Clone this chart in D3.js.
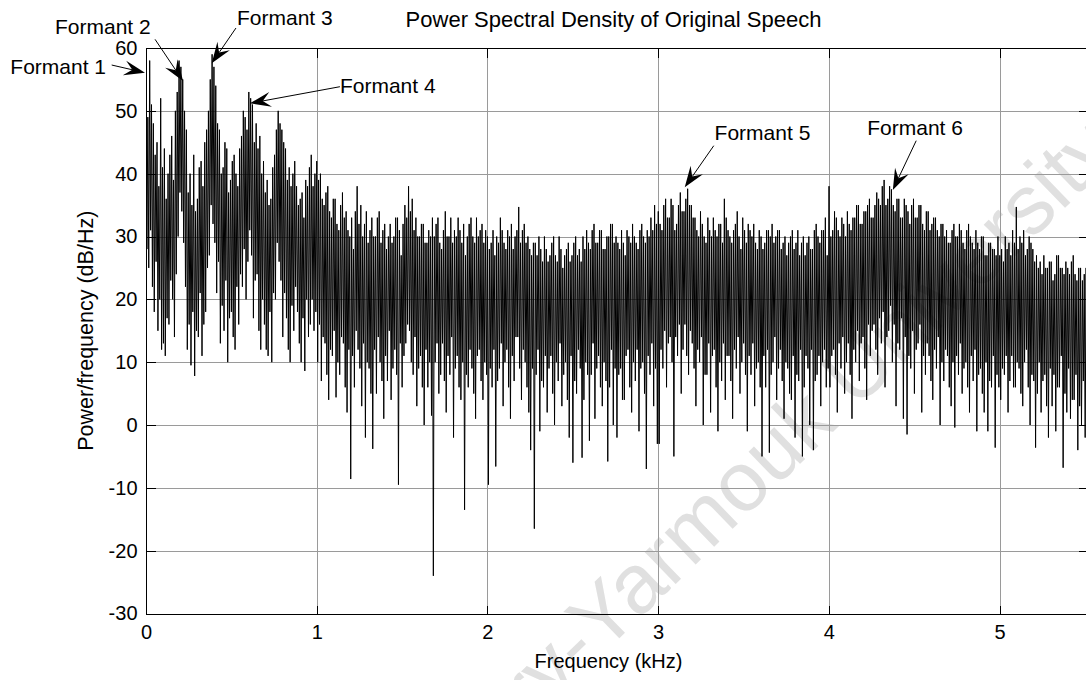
<!DOCTYPE html>
<html>
<head>
<meta charset="utf-8">
<script src="https://cdn.jsdelivr.net/npm/d3@7"></script>
<style>
  html, body { margin: 0; padding: 0; background: #fff; }
  svg text { font-family: "Liberation Sans", Arial, Helvetica, sans-serif; fill: #000; }
</style>
</head>
<body>
<svg id="chart" width="1086" height="680"></svg>
<script>
// Periodogram of the speech signal (dB/Hz), one array per kHz band.
const psdBand0 = [
  57, 28, 49, 25, 58, 31, 51, 22, 48, 18, 43, 26, 45, 15, 38, 20,
  52, 12, 41, 13, 44, 11, 36, 17, 40, 16, 43, 23, 46, 20, 39, 14,
  50, 24, 53, 30, 58, 37, 57, 34, 55, 29, 50, 22, 47, 12, 37, 16,
  40, 9.5, 35, 18, 43, 7.8, 34, 15, 36, 14, 41, 21, 42, 11, 38, 16,
  45, 18, 47, 25, 50, 27, 55, 35, 59, 32, 57, 29, 54, 21, 48, 26,
  47, 13, 40, 19, 41, 15, 45, 23, 44, 10, 37, 17, 39, 18, 42, 14,
  43, 12, 40, 22, 38, 16, 44, 24, 46, 22, 50, 28, 49, 20, 47, 26,
  53, 31, 52, 27, 51, 17, 45, 23, 48, 24, 44, 15, 46, 12, 40, 20,
  42, 16, 37, 12, 39, 11, 35, 18, 36, 10, 41, 21, 43, 20, 47, 29,
  50, 26, 48, 23, 47, 14, 45, 21, 44, 17, 39, 12, 41, 10, 38, 19,
  40, 15, 42, 22, 38, 18, 35, 13, 36, 10, 37, 17, 33, 8.6, 39, 20,
  38, 14, 41, 16, 43, 20, 38, 15, 40, 18
];
const psdBand1 = [
  42, 10, 39, 16, 40, 7, 36, 14, 35, 13, 37, 8, 38, 4, 34, 12,
  33, 11, 36, 15, 36, 4.4, 32, 10, 31, 8, 35, 14, 37, 13, 33, 6,
  34, 2, 31, 12, 30, -8.6, 33, 11, 28, 6, 34, 15, 38, 12, 32, 9,
  35, 3, 30, 13, 32, -2, 34, 10, 29, 9, 31, 5, 33, -3.8, 30, 12,
  30, 5, 33, 14, 34, 10, 29, 7, 31, 1, 32, 11, 28, 7, 30, 15,
  32, 4, 29, 9, 30, 12, 33, 8, 33, -9.5, 31, 13, 27, 6, 32, 11,
  35, 13, 33, 16, 38, 15, 34, 10, 36, 8, 31, 14, 33, 3, 30, 9,
  30, 11, 32, 6, 32, 0, 29, 12, 29, 6, 31, 10, 30, 1.5, 33, -24,
  30, 10, 32, 13, 33, 5, 29, 8, 28, 13, 31, 7, 34, 2, 30, 11,
  30, 8, 33, 14, 29, -2, 31, 9, 30, 11, 33, 6, 31, 4, 29, 10,
  32, -13.5, 27, 8, 30, 6, 32, 12, 33, 9, 30, 5, 29, 1, 33, 11,
  30, 12, 31, 7, 32, 4, 29, 10, 31, 8
];
const psdBand2 = [
  30, -9.5, 28, 9, 29, 6, 31, 12, 27, -6.6, 30, 7, 29, 9, 33, 13,
  31, 3, 29, 10, 28, 12, 31, 6, 30, 1, 32, 11, 28, 7, 30, 14,
  31, 14, 34.7, 9, 29, 4, 31, 12, 32, 10, 29, 6, 30, 2, 28, -4,
  27, 9, 29, -16.5, 29, 8, 27, 12, 30, -1, 28, 7, 26, 6, 30, 11,
  28, 2, 26, 9, 27, 11, 29, 5, 30, 0, 27, 10, 26, 7, 30, 13,
  28, 3, 25, 8, 27, 10, 28, 4, 29, -2, 26, 11, 27, -6, 29, 7,
  30, 5, 27, 12, 28, 9, 26, -5.2, 30, 4, 28, 10, 31, 8, 29, -2.5,
  28, 8, 31, 13, 32, 1, 29, 9, 29, 11, 31, 6, 31, 3, 28, 10,
  28, 7, 30, -5.8, 30, 6, 32, 12, 32, 0, 29, 9, 30, -2, 29, 8,
  28, 9, 31, 4, 29, 4, 27, 11, 31, 12, 30, 6, 29, 2, 32, 10,
  30, 7, 29, 12, 28, -1, 31, 9, 32, 10, 30, 5, 29, -7, 31, 11,
  30, 8, 33, 13, 31, 3, 35, 9, 32, -3
];
const psdBand3 = [
  34, -3, 32, 12, 31, 9, 35, 15, 36, 6, 33, 13, 33, 14, 36, 10,
  35, -5, 31, 14, 32, 11, 35, 16, 37, 5, 34, 12, 34, 16, 36, 11,
  37.6, 8, 35, 15, 35, 13, 33, 9, 33, 3, 31, 12, 30, 10, 34, 14,
  32, 0, 30, 8, 29, 8, 33, 13, 31, 2, 30, 11, 33, 12, 31, 6,
  30, -1, 32, 10, 32, 7, 29, 13, 36, 4, 33, 11, 31, 11, 30, 7,
  29, 1, 31, 12, 32, 9, 34, 14, 30, 5, 28, 10, 33, 13, 31, 8,
  29, -1, 32, 11, 31, 8, 30, 13, 32, 3, 29, 9, 28, 10, 31, 6,
  30, -5, 28, 11, 29, 6, 31, 12, 31, -4.4, 30, 8, 32, 10, 29, 14,
  30, 4, 31, 9, 31, 12, 28, 7, 29, 1, 30, 10, 27, 9, 29, 5,
  30, 4, 31, 11, 28, -2, 29, 8, 31, 7, 27, 12, 29, -5, 30, 6,
  27, 11, 29, 9, 30, 0, 28, 12, 28, -4, 31, 7, 32, 8, 30, 11,
  29, 3, 31, 10, 31, 12, 33, 6, 27, 9
];
const psdBand4 = [
  38, 6, 30, 11, 31, 12, 34, 8, 33, 2, 31, 13, 30, 9, 33, 14,
  32, 5, 30, 10, 34, 13, 32, 8, 31, 1, 33, 12, 33, 10, 35, 15,
  35, 7, 32, 13, 32, 14, 34, 9, 34, 4, 35, 16, 36, 11, 33, 15,
  33, 16, 35, 12, 37, 8, 36, 17, 35, 13, 38, 18, 39, 6, 35, 14,
  36, 15, 38, 19, 37.5, 10, 35, 16, 34, 3, 36, 13, 36, 12, 33, 17,
  33, 1, 36, 14, 35, -1.5, 34, 11, 32, 9, 35, 15, 36, 5, 33, 12,
  33, 13, 35, 16, 35, 2, 32, 11, 31, 8, 34, 13, 34, 11, 31, 7,
  32, 4, 33, 12, 33, 9, 31, 14, 30, 0, 32, 10, 32, 7, 30, 12,
  31, 11, 29, 6, 29, 3, 31, 10, 32, -0.4, 30, 11, 30, 8, 32, 13,
  31, 5, 29, 9, 28, 10, 31, 6, 32, 2, 30, 11, 29, 7, 28, 12,
  31, -1, 29, 8, 28, 9, 30, 5, 30, 2, 27, 10, 27, -1, 29, 7,
  29, 6, 28, 11, 28, -3.6, 27, 8, 30, 6
];
const psdBand5 = [
  27, 4, 28, 9, 26, 8, 30, 11, 28, 2, 29, 7, 27, 11, 31, 6,
  29, 6, 34.7, 10, 28, 9, 30, 5, 29, 3, 31, 10, 27, 12, 28, 6,
  30, 0, 29, 8, 28, 7, 26, -3.6, 27, 5, 25, 10, 26, 2, 24, 7,
  27, 8, 25, 3, 25, -2, 26, 9, 26, 3, 23, 8, 24, -1, 27, 6,
  27, 6, 25, 11, 25, -6.8, 24, 5, 26, 2, 25, 9, 24, 1, 26, 4,
  27, 4, 24, 8, 23, -4, 25, 3, 25, 0, 23, 7, 24, -2, 25, -8
];

const nyquistKHz = 5.5125;               // fs = 11.025 kHz
const xTickValues = [0, 1, 2, 3, 4, 5];
const yTickValues = [-30, -20, -10, 0, 10, 20, 30, 40, 50, 60];

// Formant annotations: label position, arrow tail and arrow tip in (kHz, dB).
const formantLabels = ["Formant 1", "Formant 2", "Formant 3", "Formant 4", "Formant 5", "Formant 6"];
const formantText   = [[-0.234, 55.86, "end"], [-0.533, 62.23, "start"], [0.533, 63.66, "start"],
                       [1.136, 52.84, "start"], [3.331, 45.36, "start"], [4.225, 46.15, "start"]];
const formantTail   = [[-0.201, 57.29], [0.053, 61.38], [0.527, 63.18], [1.136, 53.84], [3.326, 44.45], [4.512, 45.25]];
const formantTip    = [[-0.006, 56.07], [0.217, 54.75], [0.385, 57.56], [0.609, 51.2], [3.156, 37.83], [4.375, 37.4]];

const psd = [].concat(psdBand0, psdBand1, psdBand2, psdBand3, psdBand4, psdBand5);
const df = nyquistKHz / (psd.length - 1);
const points = psd.map((v, i) => ({ f: i * df, p: v }));

const svg = d3.select("#chart");
const x = d3.scaleLinear().domain([0, nyquistKHz]).range([146, 1087]);
const y = d3.scaleLinear().domain([-30, 60]).range([613.5, 48]);
const [x0, x1] = x.range();
const [y0, y1] = y.range();
const px = v => Math.round(v) + 0.5;

svg.append("rect").attr("width", 1086).attr("height", 680).attr("fill", "#fff");

// faint diagonal watermark
const wm = svg.append("g")
  .attr("transform", "translate(602,655) rotate(-44)")
  .style("font-family", "'Liberation Serif', 'Times New Roman', serif")
  .style("font-size", "84px");
wm.append("text").attr("text-anchor", "end").style("fill", "#e0e0e0").text("\u00A9 Arabic Digital Library-");
wm.append("text").attr("text-anchor", "start").style("fill", "#e0e0e0").text("Yarmouk University");

// grid
const grid = svg.append("g").attr("stroke", "#9a9a9a").attr("stroke-width", 1).attr("shape-rendering", "crispEdges");
grid.selectAll("line.v").data(xTickValues.filter(d => d > 0)).join("line")
  .attr("class", "v")
  .attr("x1", d => px(x(d))).attr("x2", d => px(x(d))).attr("y1", y1).attr("y2", y0);
grid.selectAll("line.h").data(yTickValues.filter(d => d > -30 && d < 60)).join("line")
  .attr("class", "h")
  .attr("y1", d => px(y(d))).attr("y2", d => px(y(d))).attr("x1", x0).attr("x2", x1);

// spectrum trace
svg.append("defs").append("clipPath").attr("id", "plotClip")
  .append("rect").attr("x", x0).attr("y", y1).attr("width", x1 - x0).attr("height", y0 - y1);
svg.append("path")
  .datum(points)
  .attr("clip-path", "url(#plotClip)")
  .attr("fill", "none")
  .attr("stroke", "#000")
  .attr("stroke-width", 1)
  .attr("d", d3.line().x(d => x(d.f)).y(d => y(d.p)));

// axes with inward ticks on all four sides
const tickLen = 9;
const plainNumber = d => String(d);
const axisStyle = g => {
  g.selectAll(".domain").remove();
  g.selectAll(".tick line").attr("stroke", "#000").attr("shape-rendering", "crispEdges");
  g.selectAll(".tick text").style("font-size", "20px").attr("fill", "#000");
};
svg.append("g").attr("transform", `translate(0,${px(y0)})`)
  .call(d3.axisBottom(x).tickValues(xTickValues).tickFormat(plainNumber).tickSize(-tickLen).tickPadding(10).offset(0.5))
  .call(axisStyle);
svg.append("g").attr("transform", `translate(0,${px(y1)})`)
  .call(d3.axisTop(x).tickValues(xTickValues).tickFormat("").tickSize(-tickLen).offset(0.5))
  .call(axisStyle);
svg.append("g").attr("transform", `translate(${px(x0)},0)`)
  .call(d3.axisLeft(y).tickValues(yTickValues).tickFormat(plainNumber).tickSize(-tickLen).tickPadding(9).offset(0.5))
  .call(axisStyle);
svg.append("g").attr("transform", `translate(${px(x1)},0)`)
  .call(d3.axisRight(y).tickValues(yTickValues).tickFormat("").tickSize(-tickLen).offset(0.5))
  .call(axisStyle);

// axes box
svg.append("rect")
  .attr("x", px(x0)).attr("y", px(y1))
  .attr("width", Math.round(x1) - Math.round(x0)).attr("height", Math.round(y0) - Math.round(y1))
  .attr("fill", "none").attr("stroke", "#000").attr("stroke-width", 1.2)
  .attr("shape-rendering", "crispEdges");

// title and axis labels
svg.append("text").attr("x", (x0 + x1) / 2 - 3).attr("y", 27).attr("text-anchor", "middle")
  .style("font-size", "22px").text("Power Spectral Density of Original Speech");
svg.append("text").attr("x", (x0 + x1) / 2 - 8).attr("y", 668).attr("text-anchor", "middle")
  .style("font-size", "20px").text("Frequency (kHz)");
svg.append("text").attr("transform", `translate(93,${(y0 + y1) / 2}) rotate(-90)`).attr("text-anchor", "middle")
  .style("font-size", "21.5px").text("Power/frequency (dB/Hz)");

// formant annotations with filled swept-back arrowheads
const headLen = 21, headHalf = 7.5, notch = 0.62;
formantLabels.forEach((label, i) => {
  const [tf, td, anchor] = formantText[i];
  svg.append("text").attr("x", x(tf)).attr("y", y(td)).attr("text-anchor", anchor)
    .style("font-size", "21px").text(label);
  const ax = x(formantTail[i][0]), ay = y(formantTail[i][1]);
  const bx = x(formantTip[i][0]), by = y(formantTip[i][1]);
  const ang = Math.atan2(by - ay, bx - ax);
  const ux = Math.cos(ang), uy = Math.sin(ang);
  const nx = -uy, ny = ux;
  const back = [bx - ux * headLen, by - uy * headLen];
  const mid = [bx - ux * headLen * notch, by - uy * headLen * notch];
  svg.append("line").attr("x1", ax).attr("y1", ay).attr("x2", mid[0]).attr("y2", mid[1])
    .attr("stroke", "#000").attr("stroke-width", 1);
  svg.append("path")
    .attr("d", `M${bx},${by}L${back[0] + nx * headHalf},${back[1] + ny * headHalf}L${mid[0]},${mid[1]}L${back[0] - nx * headHalf},${back[1] - ny * headHalf}Z`)
    .attr("fill", "#000");
});
</script>
</body>
</html>
